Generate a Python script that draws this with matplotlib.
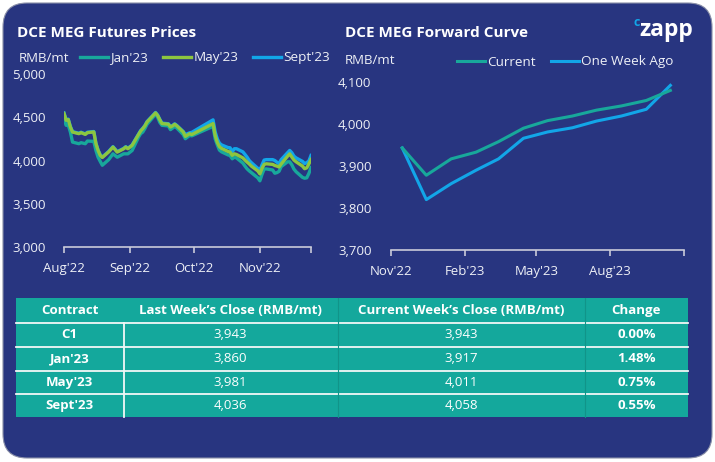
import pandas as pd
import matplotlib.pyplot as plt
import matplotlib.dates as mdates
from matplotlib.patches import FancyBboxPatch, Rectangle
from matplotlib.lines import Line2D
from matplotlib.ticker import FuncFormatter

plt.rcParams['font.family'] = ['Open Sans', 'DejaVu Sans']

NAVY = '#283580'
TEAL = '#18A89B'
GREEN = '#8DC63F'
BLUE = '#12A6E8'
TABLE_BG = '#14A89C'
TXT = '#EEF0F6'
AXIS = '#C9CBDA'

# --- futures prices (daily closes) ---
fut_dates = ['2022-08-01', '2022-08-02', '2022-08-03', '2022-08-04', '2022-08-05',
             '2022-08-08', '2022-08-09', '2022-08-11', '2022-08-12', '2022-08-15',
             '2022-08-16', '2022-08-17', '2022-08-18', '2022-08-19', '2022-08-22',
             '2022-08-24', '2022-08-26', '2022-08-29', '2022-08-30', '2022-08-31',
             '2022-09-02', '2022-09-05', '2022-09-06', '2022-09-07', '2022-09-08',
             '2022-09-09', '2022-09-13', '2022-09-14', '2022-09-15', '2022-09-16',
             '2022-09-19', '2022-09-20', '2022-09-21', '2022-09-22', '2022-09-23',
             '2022-09-26', '2022-09-27', '2022-09-29', '2022-09-30', '2022-10-10',
             '2022-10-11', '2022-10-12', '2022-10-13', '2022-10-14', '2022-10-17',
             '2022-10-18', '2022-10-19', '2022-10-20', '2022-10-21', '2022-10-24',
             '2022-10-25', '2022-10-26', '2022-10-27', '2022-10-28', '2022-10-31',
             '2022-11-01', '2022-11-02', '2022-11-03', '2022-11-04', '2022-11-07',
             '2022-11-08', '2022-11-09', '2022-11-10', '2022-11-11', '2022-11-14',
             '2022-11-15', '2022-11-16', '2022-11-17', '2022-11-18', '2022-11-21',
             '2022-11-22', '2022-11-23', '2022-11-24', '2022-11-25']
jan23 = [4484, 4407, 4410, 4329, 4213, 4194, 4206, 4194, 4225, 4221,
         4116, 4038, 3990, 3945, 4010, 4077, 4038, 4077, 4077, 4077,
         4116, 4270, 4310, 4329, 4370, 4419, 4535, 4500, 4440, 4407,
         4400, 4357, 4375, 4395, 4375, 4300, 4252, 4290, 4285, 4395,
         4250, 4180, 4120, 4100, 4065, 4058, 4020, 4038, 4030, 3970,
         3935, 3903, 3880, 3860, 3800, 3765, 3840, 3900, 3903, 3890,
         3853, 3860, 3875, 3930, 3985, 3985, 3950, 3900, 3870, 3805,
         3795, 3800, 3850, 3917]
may23 = [4543, 4465, 4473, 4387, 4329, 4310, 4322, 4302, 4322, 4330,
         4194, 4116, 4060, 4035, 4100, 4155, 4097, 4135, 4155, 4136,
         4175, 4300, 4341, 4368, 4400, 4445, 4550, 4520, 4470, 4427,
         4420, 4387, 4400, 4419, 4400, 4330, 4279, 4310, 4300, 4427,
         4290, 4210, 4160, 4140, 4105, 4097, 4060, 4077, 4070, 4030,
         4005, 3981, 3960, 3935, 3880, 3845, 3910, 3955, 3962, 3955,
         3942, 3935, 3925, 3960, 4050, 4077, 4040, 4005, 3985, 3935,
         3905, 3915, 3960, 4011]
sept23 = [4550, 4470, 4478, 4392, 4334, 4315, 4327, 4307, 4327, 4335,
          4199, 4121, 4065, 4040, 4105, 4160, 4102, 4140, 4160, 4141,
          4180, 4305, 4346, 4373, 4405, 4450, 4555, 4525, 4475, 4432,
          4425, 4392, 4405, 4424, 4405, 4335, 4300, 4320, 4325, 4470,
          4330, 4250, 4200, 4180, 4150, 4147, 4100, 4136, 4136, 4100,
          4070, 4038, 4000, 3975, 3910, 3885, 3950, 4005, 4010, 4010,
          4000, 3980, 3965, 4010, 4090, 4116, 4090, 4050, 4030, 3990,
          3965, 3975, 3995, 4058]

# --- forward curve (monthly contracts) ---
curve_months = ['2022-11-15', '2022-12-15', '2023-01-15', '2023-02-15', '2023-03-15',
                '2023-04-15', '2023-05-15', '2023-06-15', '2023-07-15', '2023-08-15',
                '2023-09-15', '2023-10-15']
curve_current = [3943, 3878, 3917, 3933, 3958, 3990, 4008, 4019, 4033, 4043, 4056, 4080]
curve_week_ago = [3943, 3820, 3858, 3890, 3917, 3966, 3981, 3991, 4007, 4019, 4035, 4092]

# --- weekly table ---
contracts = ['C1', "Jan'23", "May'23", "Sept'23"]
last_week = [3943, 3860, 3981, 4036]
this_week = [3943, 3917, 4011, 4058]
headers = ['Contract', 'Last Week\u2019s Close (RMB/mt)', 'Current Week\u2019s Close (RMB/mt)', 'Change']

W, H = 715, 462
fig = plt.figure(figsize=(W / 100, H / 100), dpi=100)
fig.patch.set_facecolor('white')

# background canvas in pixel coordinates (y down)
bg = fig.add_axes([0, 0, 1, 1], zorder=0)
bg.set_xlim(0, W)
bg.set_ylim(H, 0)
bg.axis('off')
bg.add_patch(FancyBboxPatch((3, 3), 709, 455, boxstyle='round,pad=0,rounding_size=24',
                            fc=NAVY, ec='#8a8fa8', lw=0.8))


def px_axes(x0, y0, x1, y1):
    # axes rectangle from pixel box (y measured from top)
    return fig.add_axes([x0 / W, 1 - y1 / H, (x1 - x0) / W, (y1 - y0) / H], zorder=2)


def style_axes(ax, ypad):
    ax.set_facecolor('none')
    for s in ['top', 'right', 'left']:
        ax.spines[s].set_visible(False)
    ax.spines['bottom'].set_color(AXIS)
    ax.spines['bottom'].set_linewidth(1.2)
    ax.tick_params(axis='x', colors=AXIS, length=4, width=1.2, pad=7, labelsize=9.5,
                   labelcolor=TXT)
    ax.tick_params(axis='y', length=0, pad=ypad, labelsize=9.5, labelcolor=TXT)
    ax.yaxis.set_major_formatter(FuncFormatter(lambda v, p: f'{v:,.0f}'))


# ---- left chart: futures prices ----
ax1 = px_axes(64, 74, 311, 247)
d = pd.to_datetime(fut_dates)
ax1.plot(d, sept23, color=BLUE, lw=2.4, solid_joinstyle='round')
ax1.plot(d, jan23, color=TEAL, lw=2.4, solid_joinstyle='round')
ax1.plot(d, may23, color=GREEN, lw=2.4, solid_joinstyle='round')
ax1.set_ylim(3000, 5000)
ax1.set_yticks([3000, 3500, 4000, 4500, 5000])
ax1.set_xlim(d[0], d[-1])
ticks1 = pd.to_datetime(['2022-08-01', '2022-09-01', '2022-10-01', '2022-11-01']).tolist() + [d[-1]]
ax1.set_xticks(ticks1)
ax1.set_xticklabels(["Aug'22", "Sep'22", "Oct'22", "Nov'22", ''])
style_axes(ax1, 13)

# ---- right chart: forward curve ----
ax2 = px_axes(391, 82, 684, 250)
m = pd.to_datetime(curve_months)
ax2.plot(m, curve_week_ago, color=BLUE, lw=2.2, solid_joinstyle='round')
ax2.plot(m, curve_current, color=TEAL, lw=2.2, solid_joinstyle='round')
ax2.set_ylim(3700, 4100)
ax2.set_yticks([3700, 3800, 3900, 4000, 4100])
ax2.set_xlim(pd.Timestamp('2022-11-01'), pd.Timestamp('2023-11-01'))
ticks2 = pd.to_datetime(['2022-11-01', '2023-02-01', '2023-05-01', '2023-08-01', '2023-11-01'])
ax2.set_xticks(ticks2)
ax2.set_xticklabels(["Nov'22", "Feb'23", "May'23", "Aug'23", ''])
style_axes(ax2, 14)

# ---- titles, units, legends ----
bg.text(17, 33, 'DCE MEG Futures Prices', color='white', fontsize=11, fontweight='bold', va='center')
bg.text(345, 33, 'DCE MEG Forward Curve', color='white', fontsize=11, fontweight='bold', va='center')
bg.text(19, 58, 'RMB/mt', color=TXT, fontsize=9.5, va='center')
bg.text(345, 61, 'RMB/mt', color=TXT, fontsize=9.5, va='center')

leg1 = [Line2D([], [], color=TEAL, lw=2.4), Line2D([], [], color=GREEN, lw=2.4),
        Line2D([], [], color=BLUE, lw=2.4)]
lg = bg.legend(leg1, ["Jan'23", "May'23", "Sept'23"], loc='center left', bbox_to_anchor=(80, 58),
               bbox_transform=bg.transData, ncol=3, frameon=False, fontsize=9.7,
               handlelength=2.1, handletextpad=0.15, columnspacing=1.1, borderpad=0, borderaxespad=0)
for t in lg.get_texts():
    t.set_color(TXT)
bg.add_artist(lg)

leg2 = [Line2D([], [], color=TEAL, lw=2.2), Line2D([], [], color=BLUE, lw=2.2)]
lg2 = bg.legend(leg2, ['Current', 'One Week Ago'], loc='center left', bbox_to_anchor=(457, 62),
                bbox_transform=bg.transData, ncol=2, frameon=False, fontsize=9.7,
                handlelength=2.1, handletextpad=0.15, columnspacing=1.1, borderpad=0, borderaxespad=0)
for t in lg2.get_texts():
    t.set_color(TXT)

# logo
bg.text(633, 23, 'c', color=BLUE, fontsize=9, fontweight='bold', va='center')
bg.text(639, 30, 'zapp', color='white', fontsize=16.5, fontweight='bold', va='center')

# ---- table ----
col_edges = [16, 123.5, 337.5, 584.5, 688]
row_edges = [298, 323, 347, 370.5, 394, 417]
bg.add_patch(Rectangle((col_edges[0], row_edges[0]), col_edges[-1] - col_edges[0],
                       row_edges[-1] - row_edges[0], fc=TABLE_BG, ec='none'))
for y in row_edges[1:-1]:
    bg.plot([col_edges[0], col_edges[-1]], [y, y], color='#F2F7F6', lw=1.3)
bg.plot([col_edges[1], col_edges[1]], [row_edges[1], row_edges[-1]], color='#F2F7F6', lw=1.3)
for x in col_edges[2:4]:
    bg.plot([x, x], [row_edges[0], row_edges[-1]], color='#119489', lw=0.8)

col_mid = [(a + b) / 2 for a, b in zip(col_edges[:-1], col_edges[1:])]
row_mid = [(a + b) / 2 for a, b in zip(row_edges[:-1], row_edges[1:])]
for x, h in zip(col_mid, headers):
    bg.text(x, row_mid[0], h, color='white', fontsize=9.5, fontweight='bold', ha='center', va='center')
for i, c in enumerate(contracts):
    y = row_mid[i + 1]
    chg = (this_week[i] / last_week[i] - 1) * 100
    bg.text(col_mid[0], y, c, color='white', fontsize=9.5, fontweight='bold', ha='center', va='center')
    bg.text(col_mid[1], y, f'{last_week[i]:,}', color='white', fontsize=9.5, ha='center', va='center')
    bg.text(col_mid[2], y, f'{this_week[i]:,}', color='white', fontsize=9.5, ha='center', va='center')
    bg.text(col_mid[3], y, f'{chg:.2f}%', color='white', fontsize=9.5, fontweight='bold', ha='center', va='center')

fig.savefig('out.png', dpi=100)
